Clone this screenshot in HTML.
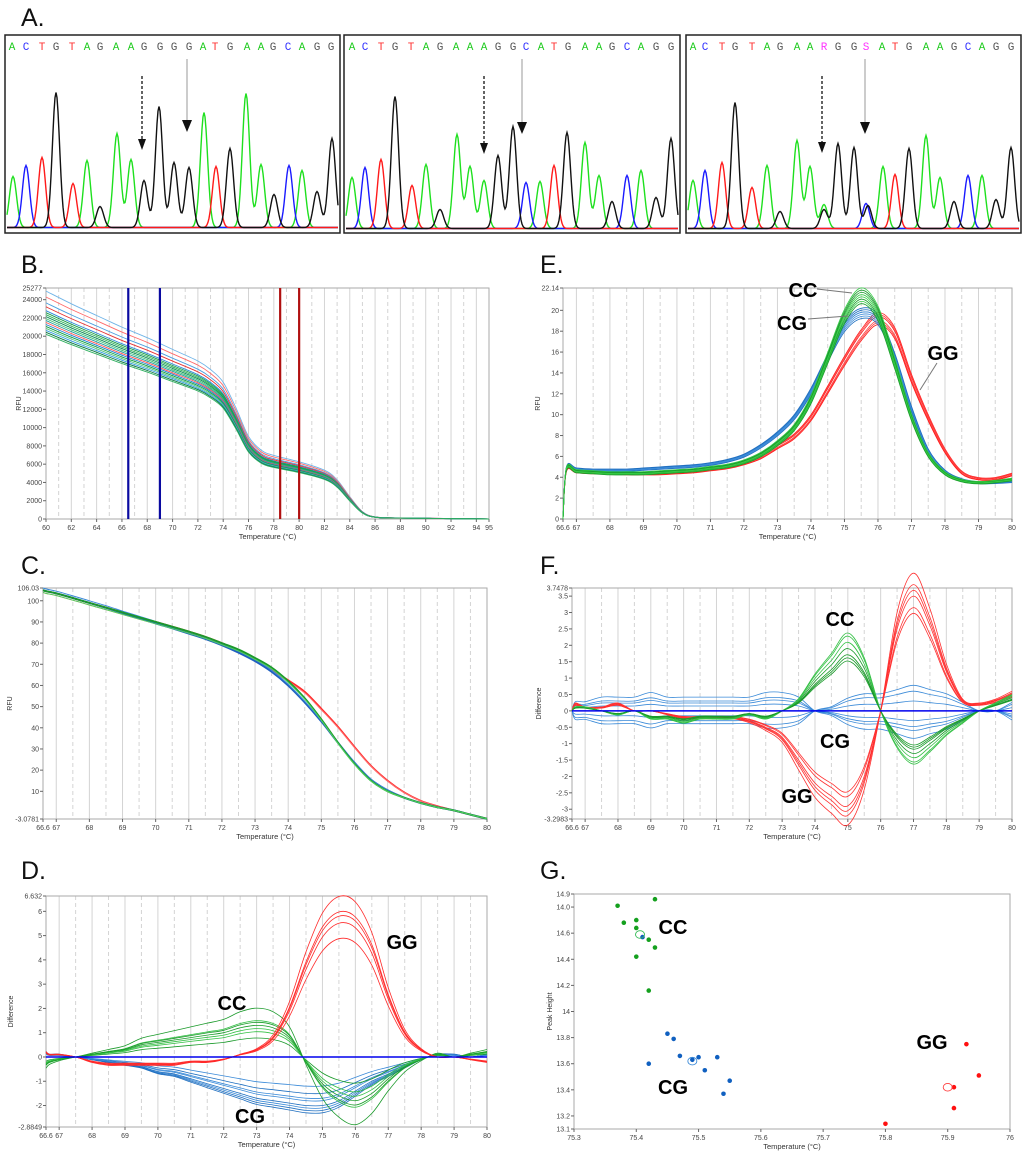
<!DOCTYPE html>
<html><head><meta charset="utf-8"><style>
html,body{margin:0;padding:0;background:#fff;}
svg{display:block;font-family:"Liberation Sans",sans-serif;}
</style></head><body>
<svg id="fig" width="1024" height="1156" viewBox="0 0 1024 1156" xmlns="http://www.w3.org/2000/svg"></svg>
<script>
// ---------- DATA ----------
const seq1 = "ACTGTAGAAGGGGATGAAGCAGG";
const seq2 = "ACTGTAGAAAGGCATGAAGCAGG";
const seq3 = "ACTGTAGAARGGSATGAAGCAGG";
const seqX1 = [12,26,42,56,72,87,100,116,131,144,160,174,189,203,215,230,247,261,273,288,302,317,331];
const seqX2 = [352,365,381,395,411,426,440,456,470,484,498,513,526,541,554,568,585,599,612,627,641,656,671];
const seqX3 = [693,705,722,735,752,767,780,797,810,824,838,854,866,882,895,909,926,940,954,968,982,996,1011];
const peaks1 = [[13,51,'g'],[26,62,'b'],[42,70,'r'],[56,135,'k'],[73,44,'r'],[87,67,'g'],[100,21,'k'],[117,94,'g'],[131,68,'g'],[144,47,'k'],[159,121,'k'],[174,65,'k'],[189,60,'k'],[204,115,'g'],[216,61,'r'],[230,79,'k'],[246,134,'g'],[261,63,'g'],[274,33,'k'],[289,62,'b'],[302,57,'g'],[317,36,'k'],[332,89,'k']];
const peaks2 = [[352,51,'g'],[365,61,'b'],[381,69,'r'],[395,132,'k'],[412,43,'r'],[426,64,'g'],[440,19,'k'],[457,94,'g'],[470,62,'g'],[484,48,'g'],[498,73,'k'],[513,102,'k'],[526,46,'b'],[540,47,'g'],[554,63,'r'],[567,96,'k'],[585,86,'g'],[599,53,'g'],[612,27,'k'],[627,53,'b'],[641,58,'g'],[656,31,'k'],[671,90,'k']];
const peaks3 = [[693,48,'g'],[705,58,'b'],[722,66,'r'],[735,126,'k'],[752,41,'r'],[767,63,'g'],[780,17,'k'],[797,88,'g'],[810,62,'g'],[824,24,'g'],[824,19,'k'],[838,85,'k'],[854,81,'k'],[866,25,'b'],[868,23,'k'],[883,62,'g'],[895,54,'r'],[909,80,'k'],[926,93,'g'],[940,51,'g'],[954,27,'k'],[968,53,'b'],[982,53,'g'],[996,29,'k'],[1011,81,'k']];

const meltT = [66.6,66.7,67,67.5,68,68.5,69,69.5,70,70.5,71,71.5,72,72.5,73,73.5,74,74.5,75,75.5,76,76.5,77,77.5,78,78.5,79,79.5,80];
const rawT = [60,62,64,66,68,70,72,73,74,75,76,77,78,80,82,83,84,85,86,88,95];
const rawRFU = [21500,20300,19200,18100,17100,16000,14900,14100,12900,10500,7800,6500,6000,5400,4600,3700,2100,700,200,100,0];
const rawScale = [1.16,1.13,1.1,1.08,1.06,1.05,1.04,1.03,1.02,1.01,1.0,0.99,0.98,0.97,0.96,0.95,0.94];
const normCC = [105,104.5,103.5,101.3,99,96.8,94.5,92.2,90,87.8,85.5,83,80,77,73,68.5,62,54,44,33,23,15,10,7,4.5,2.5,1,-1,-3];
const normCG = [105,104.5,103.5,101.3,99,96.7,94.2,91.8,89.3,87,84.5,82,79,75.5,71.5,66.5,60,52,43,33,23.5,15.5,10.5,7,4.5,2.5,1,-1,-3];
const normGG = [105,104.5,103.5,101.3,99,96.8,94.5,92.2,90,87.8,85.5,83,80,76.5,72.5,67.5,62.5,57,49,40.5,31,22,15,9.5,5.5,3,1,-1,-3];
const derivCC = [0,4.8,4.6,4.5,4.4,4.4,4.4,4.5,4.6,4.7,4.9,5.1,5.5,6.2,7.3,8.8,11.5,15.5,19.5,21.5,19.8,15.0,9.8,6.2,4.4,3.7,3.5,3.6,3.8];
const derivCG = [0,4.9,4.8,4.7,4.7,4.7,4.8,4.9,5.0,5.1,5.3,5.6,6.1,7.0,8.2,9.8,12.3,15.5,18.5,19.8,19.2,15.6,10.6,6.6,4.6,3.8,3.5,3.5,3.6];
const derivGG = [0,4.7,4.6,4.5,4.5,4.4,4.4,4.4,4.5,4.6,4.8,5.0,5.4,6.0,7.0,8.0,9.8,12.5,15.3,17.8,19.4,18.0,13.6,9.8,6.6,4.5,3.9,3.9,4.3];
const derivScaleCC = [1.02,1.0,0.98,0.97,1.01,0.99,0.96,1.03];
const derivScaleCG = [1.0,0.99,1.01,0.98,0.97,1.0,1.02];
const derivScaleGG = [1.0,0.98,1.02,0.97,0.96,1.01];
const diffFCC = [0,0.1,0.1,0.0,-0.1,0.0,-0.2,-0.2,-0.3,-0.2,-0.2,-0.2,-0.1,-0.2,0.0,0.3,0.9,1.4,1.9,1.3,0.0,-0.9,-1.3,-1.0,-0.6,-0.3,0.0,0.2,0.4];
const diffFGG = [0,0.2,0.1,0.1,0.2,0.0,0.0,-0.1,-0.2,-0.2,-0.2,-0.2,-0.3,-0.5,-0.8,-1.5,-2.2,-2.6,-2.9,-2.0,0.0,2.5,3.5,2.6,1.2,0.3,0.2,0.3,0.5];
const diffFCG = [0,0.2,0.2,0.3,0.3,0.3,0.4,0.3,0.3,0.3,0.3,0.3,0.3,0.4,0.4,0.3,0.0,-0.1,-0.3,-0.4,-0.4,-0.5,-0.6,-0.5,-0.4,-0.2,0.0,0.0,-0.2];
const diffFScaleCC = [1.0,1.2,0.8,1.1,0.9,1.25,0.85];
const diffFScaleGG = [1.0,1.1,0.9,1.2,0.85,1.05];
const diffFScaleCG = [1.0,-1.0,0.5,-0.5,1.4,-1.3,0.8];
const diffDGG = [0.2,0.1,0.1,0.0,-0.2,-0.3,-0.3,-0.3,-0.3,-0.3,-0.2,-0.2,-0.1,0.1,0.3,0.8,2.0,3.8,5.2,5.8,5.6,4.5,2.5,1.0,0.3,0.0,0.0,-0.1,-0.2];
const diffDCC = [-0.3,-0.2,-0.1,0.0,0.1,0.2,0.3,0.5,0.6,0.7,0.8,0.9,1.0,1.2,1.3,1.2,0.8,-0.2,-1.1,-1.6,-1.8,-1.5,-0.9,-0.4,-0.1,0.1,0.0,0.1,0.2];
const diffDCG = [0.2,0.1,0.1,0.0,-0.1,-0.2,-0.3,-0.4,-0.6,-0.7,-0.9,-1.1,-1.3,-1.5,-1.7,-1.8,-1.9,-2.0,-2.0,-1.8,-1.4,-1.0,-0.7,-0.4,-0.1,0.1,0.1,0.0,0.1];
const diffDScaleGG = [1.14,1.03,1.0,0.95,0.84];
const diffDScaleCC = [1.55,1.15,1.0,0.9,0.6,0.8,1.1];
const diffDScaleCG = [1.15,1.05,1.0,0.9,0.75,0.6,1.1,0.85];
const gTempCC = [75.37,75.43,75.38,75.40,75.40,75.42,75.43,75.40,75.42];
const gPeakCC = [14.81,14.86,14.68,14.70,14.64,14.55,14.49,14.42,14.16];
const gTempCG = [75.41,75.45,75.46,75.47,75.49,75.50,75.53,75.42,75.51,75.55,75.54];
const gPeakCG = [14.57,13.83,13.79,13.66,13.63,13.65,13.65,13.60,13.55,13.47,13.37];
const gTempGG = [75.93,75.95,75.91,75.91,75.80];
const gPeakGG = [13.75,13.51,13.42,13.26,13.14];
const gMeanT = [75.406,75.49,75.90];
const gMeanP = [14.59,13.62,13.42];
const gYTicks = [14.9,14.8,14.6,14.4,14.2,14.0,13.8,13.6,13.4,13.2,13.1];
const gYLabels = ["14.9","14.0","14.6","14.4","14.2","14","13.8","13.6","13.4","13.2","13.1"];

// ---------- HELPERS ----------
const NS = "http://www.w3.org/2000/svg";
const svg = document.getElementById('fig');
function mk(tag, parent){const e=document.createElementNS(NS,tag);parent.appendChild(e);return e;}
function attrs(e,o){for(const k in o)e.setAttribute(k,o[k]);return e;}
function smooth(pts){
  let d="M"+pts[0][0].toFixed(1)+","+pts[0][1].toFixed(1);
  for(let i=0;i<pts.length-1;i++){
    const p0=pts[i-1]||pts[i],p1=pts[i],p2=pts[i+1],p3=pts[i+2]||p2;
    const c1=[p1[0]+(p2[0]-p0[0])/6,p1[1]+(p2[1]-p0[1])/6];
    const c2=[p2[0]-(p3[0]-p1[0])/6,p2[1]-(p3[1]-p1[1])/6];
    d+="C"+c1[0].toFixed(1)+","+c1[1].toFixed(1)+" "+c2[0].toFixed(1)+","+c2[1].toFixed(1)+" "+p2[0].toFixed(1)+","+p2[1].toFixed(1);
  }
  return d;
}
function panelLetter(txt,x,y){
  const t=mk('text',svg);attrs(t,{x:x,y:y,'font-size':25,fill:'#111'});t.textContent=txt;
  
  
}
function bigLabel(g,txt,x,y){
  const t=mk('text',g);attrs(t,{x:x,y:y,'font-size':20,'font-weight':'bold','text-anchor':'middle',fill:'#000'});t.textContent=txt;
  
  
}
function makeAxes(o){
  const g=mk('g',svg);
  
  
  const X=v=>o.L+(v-o.x0)/(o.x1-o.x0)*(o.R-o.L);
  const Y=v=>o.B-(v-o.y0)/(o.y1-o.y0)*(o.B-o.T);
  const grid=mk('g',g);
  
  
  (o.solid||[]).forEach(v=>{const l=mk('line',grid);attrs(l,{x1:X(v),x2:X(v),y1:o.T,y2:o.B,stroke:'#d4d4d4','stroke-width':1});
    
    });
  (o.dashed||[]).forEach(v=>{const l=mk('line',grid);attrs(l,{x1:X(v),x2:X(v),y1:o.T,y2:o.B,stroke:'#d4d4d4','stroke-width':1,'stroke-dasharray':'4,3'});
    
    });
  const box=mk('rect',g);attrs(box,{x:o.L,y:o.T,width:o.R-o.L,height:o.B-o.T,fill:'none',stroke:'#aaa','stroke-width':1});
  
  
  o.xt.forEach((v,i)=>{
    const l=mk('line',g);attrs(l,{x1:X(v),x2:X(v),y1:o.B,y2:o.B+3,stroke:'#666'});
    
    
    const t=mk('text',g);attrs(t,{x:X(v),y:o.B+11,'font-size':7,'text-anchor':'middle',fill:'#444'});t.textContent=o.xl[i];
    
    
  });
  o.yt.forEach((v,i)=>{
    const l=mk('line',g);attrs(l,{x1:o.L-3,x2:o.L,y1:Y(v),y2:Y(v),stroke:'#666'});
    
    
    const t=mk('text',g);attrs(t,{x:o.L-4,y:Y(v)+2.5,'font-size':7,'text-anchor':'end',fill:'#444'});t.textContent=o.yl[i];
    
    
  });
  const xt=mk('text',g);attrs(xt,{x:(o.L+o.R)/2,y:o.B+20,'font-size':7.5,'text-anchor':'middle',fill:'#333'});xt.textContent='Temperature (°C)';
  
  
  const yt=mk('text',g);attrs(yt,{x:o.ytx,y:(o.T+o.B)/2,'font-size':7,'text-anchor':'middle',fill:'#333',transform:'rotate(-90 '+o.ytx+' '+((o.T+o.B)/2)+')'});yt.textContent=o.ytitle;
  
  
  const plot=mk('g',g);
  
  
  return {g:g,plot:plot,X:X,Y:Y};
}
function curve(ax,xs,ys,scale,color,w,name){
  const pts=xs.map((t,i)=>[ax.X(t),ax.Y(ys[i]*scale)]);
  const p=mk('path',ax.plot);attrs(p,{d:smooth(pts),fill:'none',stroke:color,'stroke-width':w,'stroke-linejoin':'round'});
  
  
}
function range(a,b,s){const r=[];for(let v=a;v<=b+1e-9;v+=s)r.push(+v.toFixed(3));return r;}

// ---------- PANEL A ----------
panelLetter('A.',21,26);
const chan={g:'#1ee01e',b:'#1a1aff',r:'#ff1a1a',k:'#111'};
const letterCol={A:'#22cc22',C:'#3333ff',T:'#ff3333',G:'#555',R:'#ff33ff',S:'#ff33ff'};
function chromBox(bx,bw,seq,sx,peaks,base,arrowD,arrowS,name){
  const g=mk('g',svg);
  
  
  const r=mk('rect',g);attrs(r,{x:bx,y:35,width:bw,height:198,fill:'#fff',stroke:'#222','stroke-width':1.5});
  
  
  for(let i=0;i<seq.length;i++){
    const t=mk('text',g);attrs(t,{x:sx[i],y:50,'font-size':11,'text-anchor':'middle','font-family':'"Liberation Mono",monospace',fill:letterCol[seq[i]]});t.textContent=seq[i];
    
    
  }
  ['g','b','r','k'].forEach(c=>{
    const pk=peaks.filter(p=>p[2]===c);
    const pts=[];
    for(let x=bx+2;x<=bx+bw-2;x+=1){
      let y=1.5;
      pk.forEach(p=>{y+=p[1]*Math.exp(-((x-p[0])*(x-p[0]))/(2*3.6*3.6));});
      pts.push((pts.length?'L':'M')+x+','+(base-y).toFixed(1));
    }
    const p=mk('path',g);attrs(p,{d:pts.join(''),fill:'none',stroke:chan[c],'stroke-width':1.4});
    
    
  });
  const l1=mk('line',g);attrs(l1,{x1:arrowD[0],x2:arrowD[0],y1:arrowD[1],y2:arrowD[2]-9,stroke:'#111','stroke-width':1.3,'stroke-dasharray':'3,2'});
  
  
  const h1=mk('polygon',g);attrs(h1,{points:(arrowD[0]-4)+','+(arrowD[2]-11)+' '+(arrowD[0]+4)+','+(arrowD[2]-11)+' '+arrowD[0]+','+arrowD[2],fill:'#111'});
  
  
  const l2=mk('line',g);attrs(l2,{x1:arrowS[0],x2:arrowS[0],y1:arrowS[1],y2:arrowS[2]-10,stroke:'#aaa','stroke-width':1.2});
  
  
  const h2=mk('polygon',g);attrs(h2,{points:(arrowS[0]-5)+','+(arrowS[2]-12)+' '+(arrowS[0]+5)+','+(arrowS[2]-12)+' '+arrowS[0]+','+arrowS[2],fill:'#111'});
  
  
}
chromBox(5,335,seq1,seqX1,peaks1,229,[142,76,150],[187,59,132],'chromatogram-cc');
chromBox(344,336,seq2,seqX2,peaks2,230,[484,76,154],[522,59,134],'chromatogram-gg');
chromBox(686,335,seq3,seqX3,peaks3,230,[822,76,153],[865,59,134],'chromatogram-cg');

// ---------- PANEL B ----------
panelLetter('B.',21,273);
const axB=makeAxes({name:'raw-melt-chart',L:46,R:489,T:288,B:519,x0:60,x1:95,y0:0,y1:25277,
  solid:range(62,94,2),dashed:range(61,93,2),
  xt:range(60,94,2).concat([95]),xl:range(60,94,2).map(String).concat(['95']),
  yt:range(0,24000,2000).concat([25277]),yl:range(0,24000,2000).map(String).concat(['25277']),ytx:21,ytitle:'RFU'});
const bCols=['#6fb4e8','#ff6a6a','#4a9ee0','#e83030','#2a8ad8','#1a9a4a','#28b050','#0d8a5a','#3cc070','#22a0a0','#ff5050','#1b7fd0','#10a040','#50c080','#2f9be0','#0a7a40','#30b060'];
rawScale.forEach((s,i)=>curve(axB,rawT,rawRFU,s,bCols[i%bCols.length],0.9,'raw-melt-curve'));
[[66.5,'#0a0aa0'],[69,'#0a0aa0'],[78.5,'#b01010'],[80,'#b01010']].forEach(m=>{
  const l=mk('line',axB.plot);attrs(l,{x1:axB.X(m[0]),x2:axB.X(m[0]),y1:288,y2:519,stroke:m[1],'stroke-width':2.2});
  
  
});

const tX=[66.6].concat(range(67,80,1));
const tXL=['66.6'].concat(range(67,80,1).map(String));

// ---------- PANEL E ----------
panelLetter('E.',540,273);
const axE=makeAxes({name:'derivative-melt-chart',L:563,R:1012,T:288,B:519,x0:66.6,x1:80,y0:0,y1:22.14,
  solid:range(67,79,1),dashed:range(67.5,79.5,1),xt:tX,xl:tXL,
  yt:range(0,20,2).concat([22.14]),yl:range(0,20,2).map(String).concat(['22.14']),ytx:540,ytitle:'RFU'});
derivScaleGG.forEach((s,i)=>curve(axE,meltT,derivGG,s,i%2?'#ff4040':'#ff1a1a',0.8,'gg-curve'));
derivScaleCG.forEach((s,i)=>curve(axE,meltT,derivCG,s,i%2?'#3a8ad8':'#1f6fc0',0.8,'cg-curve'));
derivScaleCC.forEach((s,i)=>curve(axE,meltT,derivCC,s,i%2?'#33cc44':'#1a9a2a',0.8,'cc-curve'));
[[817,289,852,293],[808,319,848,316],[937,363,920,390]].forEach(a=>{
  const l=mk('line',axE.g);attrs(l,{x1:a[0],y1:a[1],x2:a[2],y2:a[3],stroke:'#777','stroke-width':1});
  
  
});
bigLabel(axE.g,'CC',803,297);bigLabel(axE.g,'CG',792,330);bigLabel(axE.g,'GG',943,360);

// ---------- PANEL C ----------
panelLetter('C.',21,574);
const axC=makeAxes({name:'normalized-melt-chart',L:43,R:487,T:588,B:819,x0:66.6,x1:80,y0:-3.0781,y1:106.03,
  solid:range(67,79,1),dashed:range(67.5,79.5,1),xt:tX,xl:tXL,
  yt:[-3.0781].concat(range(10,100,10)).concat([106.03]),yl:['-3.0781'].concat(range(10,100,10).map(String)).concat(['106.03']),ytx:12,ytitle:'RFU'});
curve(axC,meltT,normGG,1,'#ff2a2a',1.8,'gg-curve');
curve(axC,meltT,normGG,0.99,'#ff7070',1,'gg-curve');
curve(axC,meltT,normCG,1,'#1f5fc0',2,'cg-curve');
curve(axC,meltT,normCG,1.01,'#3a8ad8',1,'cg-curve');
curve(axC,meltT,normCC,1,'#1a9a2a',1.8,'cc-curve');
curve(axC,meltT,normCC,0.99,'#50d060',1,'cc-curve');

// ---------- PANEL F ----------
panelLetter('F.',540,574);
const axF=makeAxes({name:'difference-raw-chart',L:572,R:1012,T:588,B:819,x0:66.6,x1:80,y0:-3.2983,y1:3.7478,
  solid:range(67,79,1),dashed:range(67.5,79.5,1),xt:tX,xl:tXL,
  yt:[-3.2983].concat(range(-3,3.5,0.5)).concat([3.7478]),yl:['-3.2983'].concat(range(-3,3.5,0.5).map(String)).concat(['3.7478']),ytx:541,ytitle:'Difference'});
diffFScaleCG.forEach((s,i)=>curve(axF,meltT,diffFCG,s,'#3a8ad8',0.8,'cg-curve'));
diffFScaleGG.forEach((s,i)=>curve(axF,meltT,diffFGG,s,'#ff3030',0.8,'gg-curve'));
diffFScaleCC.forEach((s,i)=>curve(axF,meltT,diffFCC,s,i%2?'#33c044':'#1a9a2a',0.8,'cc-curve'));
(()=>{const l=mk('line',axF.plot);attrs(l,{x1:572,x2:1012,y1:axF.Y(0),y2:axF.Y(0),stroke:'#0000ee','stroke-width':1.5});
  
  })();
bigLabel(axF.g,'CC',840,626);bigLabel(axF.g,'CG',835,748);bigLabel(axF.g,'GG',797,803);

// ---------- PANEL D ----------
panelLetter('D.',21,879);
const axD=makeAxes({name:'difference-normalized-chart',L:46,R:487,T:896,B:1127,x0:66.6,x1:80,y0:-2.8849,y1:6.632,
  solid:range(67,79,1),dashed:range(67.5,79.5,1),xt:tX,xl:tXL,
  yt:[-2.8849].concat(range(-2,6,1)).concat([6.632]),yl:['-2.8849'].concat(range(-2,6,1).map(String)).concat(['6.632']),ytx:13,ytitle:'Difference'});
diffDScaleCG.forEach((s,i)=>curve(axD,meltT,diffDCG,s,i%2?'#3a8ad8':'#1f6fc0',0.8,'cg-curve'));
diffDScaleCC.forEach((s,i)=>curve(axD,meltT,diffDCC,s,i%2?'#33c044':'#1a9a2a',0.8,'cc-curve'));
diffDScaleGG.forEach((s,i)=>curve(axD,meltT,diffDGG,s,'#ff2a2a',0.8,'gg-curve'));
(()=>{const l=mk('line',axD.plot);attrs(l,{x1:46,x2:487,y1:axD.Y(0),y2:axD.Y(0),stroke:'#0000ee','stroke-width':1.5});
  
  })();
bigLabel(axD.g,'CC',232,1010);bigLabel(axD.g,'CG',250,1123);bigLabel(axD.g,'GG',402,949);

// ---------- PANEL G ----------
panelLetter('G.',540,879);
const axG=makeAxes({name:'peak-scatter-chart',L:574,R:1010,T:894,B:1129,x0:75.3,x1:76,y0:13.1,y1:14.9,
  solid:[],dashed:[],xt:range(75.3,76,0.1),xl:['75.3','75.4','75.5','75.6','75.7','75.8','75.9','76'],
  yt:gYTicks,yl:gYLabels,ytx:552,ytitle:'Peak Height'});
function dots(ts,ps,col,name){
  ts.forEach((t,i)=>{const c=mk('circle',axG.plot);attrs(c,{cx:axG.X(t),cy:axG.Y(ps[i]),r:2.3,fill:col});
    
    });
}
dots(gTempCC,gPeakCC,'#14a01e','cc-point');
dots(gTempCG,gPeakCG,'#1060c0','cg-point');
dots(gTempGG,gPeakGG,'#ff1010','gg-point');
const meanCols=['#33bb55','#3a8ad8','#ff4040'];
gMeanT.forEach((t,i)=>{const e=mk('ellipse',axG.plot);attrs(e,{cx:axG.X(t),cy:axG.Y(gMeanP[i]),rx:4.5,ry:3.8,fill:'none',stroke:meanCols[i],'stroke-width':0.9});
  
  });
bigLabel(axG.g,'CC',673,934);bigLabel(axG.g,'CG',673,1094);bigLabel(axG.g,'GG',932,1049);
</script>
</body></html>
